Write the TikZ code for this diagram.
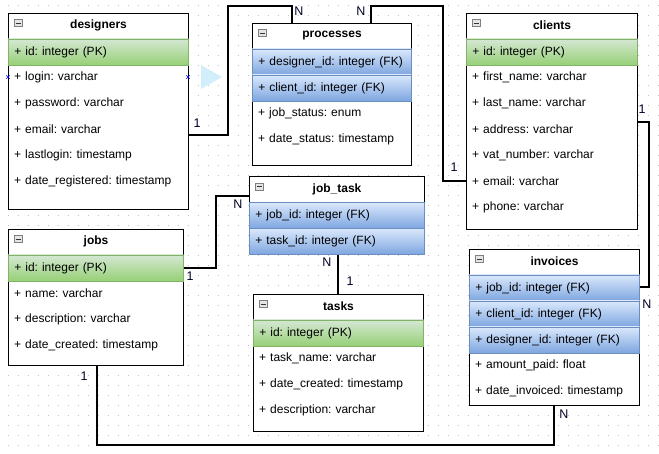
\documentclass[tikz,border=0pt]{standalone}
\usepackage{fontspec}
\setmainfont{Liberation Sans}
\usetikzlibrary{calc}
\definecolor{pkTop}{HTML}{D5E8D4}
\definecolor{pkBot}{HTML}{97D077}
\definecolor{pkLine}{HTML}{82B366}
\definecolor{fkTop}{HTML}{DAE8FC}
\definecolor{fkBot}{HTML}{7EA6E0}
\definecolor{fkLine}{HTML}{6C8EBF}
\definecolor{gridc}{HTML}{C4C4C4}
\definecolor{triC}{HTML}{D2EEFA}
\tikzset{
 tbl/.style={draw=black, line width=1.1pt, fill=white, inner sep=0pt},
 ttl/.style={font=\fontsize{12}{14}\selectfont\bfseries, inner sep=0pt},
 erow/.style={inner xsep=6pt, inner ysep=0pt, minimum height=26pt, align=left, font=\fontsize{12}{14}\selectfont\frenchspacing},
 pk/.style={draw=pkLine, line width=0.8pt, top color=pkTop, bottom color=pkBot},
 fk/.style={draw=fkLine, line width=0.8pt, top color=fkTop, bottom color=fkBot},
 plainrow/.style={},
 conn/.style={draw=black, line width=1.1pt},
 lbl/.style={font=\fontsize{12.5}{14}\selectfont, inner sep=0pt, text=black!85!blue},
 icon/.style={draw=gray, fill=gray!20, line width=0.6pt, minimum width=8pt, minimum height=7pt, inner sep=0pt},
 griddot/.style={draw=gridc, line width=1pt, dash pattern=on 1pt off 9pt},
 marker/.style={draw=blue, line width=0.6pt},
}
\newcommand\ertab[6]{%
 \node[tbl, minimum width=#4pt, minimum height=#5pt, anchor=north west] (#1) at (#2,#3) {};
 \node[ttl] (#1-title) at ($(#1.north)+(0,13)$) {#6};
 \node[icon] (#1-icon) at ($(#1.north west)+(10,10.5)$) {};
 \draw[gray!40!black, line width=0.8pt] ($(#1-icon.west)+(1.8,0)$) -- ($(#1-icon.east)+(-1.8,0)$);
}
\newcommand\errow[6]{%
 \node[erow,#5,minimum width=#4pt,text width=\dimexpr#4pt-12pt\relax,anchor=north west] (#1) at (#2,#3) {#6};
}
\begin{document}
\frenchspacing
\begin{tikzpicture}[x=1pt,y=-1pt]
\useasboundingbox (0,0) rectangle (659,453);
\fill[white] (0,0) rectangle (659,453);
\foreach \yy in {5,15,...,445} \draw[griddot] (7.5,\yy) -- (659,\yy);

% designers
\ertab{designers}{8}{12.5}{180}{196.5}{designers}
\errow{designers-id}{8}{38.5}{180}{pk}{+ id: integer (PK)}
\errow{designers-login}{8}{64.5}{180}{plainrow}{+ login: varchar}
\errow{designers-password}{8}{90.5}{180}{plainrow}{+ password: varchar}
\errow{designers-email}{8}{116.5}{180}{plainrow}{+ email: varchar}
\errow{designers-lastlogin}{8}{142.5}{180}{plainrow}{+ lastlogin: timestamp}
\errow{designers-date}{8}{168.5}{180}{plainrow}{+ date\_registered: timestamp}

% processes
\ertab{processes}{252}{22.5}{159}{142.5}{processes}
\errow{processes-designer}{252}{48.5}{159}{fk}{+ designer\_id: integer (FK)}
\errow{processes-client}{252}{74.5}{159}{fk}{+ client\_id: integer (FK)}
\errow{processes-status}{252}{100.5}{159}{plainrow}{+ job\_status: enum}
\errow{processes-date}{252}{126.5}{159}{plainrow}{+ date\_status: timestamp}

% clients
\ertab{clients}{466}{12.5}{171}{216.5}{clients}
\errow{clients-id}{466}{38.5}{171}{pk}{+ id: integer (PK)}
\errow{clients-first}{466}{64.5}{171}{plainrow}{+ first\_name: varchar}
\errow{clients-last}{466}{90.5}{171}{plainrow}{+ last\_name: varchar}
\errow{clients-address}{466}{116.5}{171}{plainrow}{+ address: varchar}
\errow{clients-vat}{466}{142.5}{171}{plainrow}{+ vat\_number: varchar}
\errow{clients-email}{466}{168.5}{171}{plainrow}{+ email: varchar}
\errow{clients-phone}{466}{194.5}{171}{plainrow}{+ phone: varchar}

% jobs
\ertab{jobs}{8}{228.5}{175}{136.5}{jobs}
\errow{jobs-id}{8}{254.5}{175}{pk}{+ id: integer (PK)}
\errow{jobs-name}{8}{280.5}{175}{plainrow}{+ name: varchar}
\errow{jobs-desc}{8}{306.5}{175}{plainrow}{+ description: varchar}
\errow{jobs-date}{8}{332.5}{175}{plainrow}{+ date\_created: timestamp}

% job_task
\ertab{job_task}{249}{176}{175}{78}{job\_task}
\errow{job_task-job}{249}{202}{175}{fk}{+ job\_id: integer (FK)}
\errow{job_task-task}{249}{228}{175}{fk}{+ task\_id: integer (FK)}

% tasks
\ertab{tasks}{253}{293.5}{170}{137.5}{tasks}
\errow{tasks-id}{253}{319.5}{170}{pk}{+ id: integer (PK)}
\errow{tasks-name}{253}{345.5}{170}{plainrow}{+ task\_name: varchar}
\errow{tasks-date}{253}{371.5}{170}{plainrow}{+ date\_created: timestamp}
\errow{tasks-desc}{253}{397.5}{170}{plainrow}{+ description: varchar}

% invoices
\ertab{invoices}{469}{248.5}{170}{156.5}{invoices}
\errow{invoices-job}{469}{274.5}{170}{fk}{+ job\_id: integer (FK)}
\errow{invoices-client}{469}{300.5}{170}{fk}{+ client\_id: integer (FK)}
\errow{invoices-designer}{469}{326.5}{170}{fk}{+ designer\_id: integer (FK)}
\errow{invoices-amount}{469}{352.5}{170}{plainrow}{+ amount\_paid: float}
\errow{invoices-date}{469}{378.5}{170}{plainrow}{+ date\_invoiced: timestamp}

% connectors
\draw[conn] (designers.east |- 0,135) -- (228,135) -- (228,6) -- (292,6) -- (292,0 |- processes.north);
\draw[conn] (371,0 |- processes.north) -- (371,6) -- (443,6) -- (443,181) -- (clients.west |- 0,181);
\draw[conn] (clients.east |- 0,122) -- (649,122) -- (649,287) -- (invoices.east |- 0,287);
\draw[conn] (97,0 |- jobs.south) -- (97,445) -- (554,445) -- (554,0 |- invoices.south);
\draw[conn] (jobs.east |- 0,268) -- (216,268) -- (216,196) -- (job_task.west |- 0,196);
\draw[conn] (338,0 |- job_task.south) -- (338,0 |- tasks.north);

% labels
\node[lbl] (l-des) at (197,123) {1};
\node[lbl] (l-proc1) at (299,11) {N};
\node[lbl] (l-proc2) at (361,11) {N};
\node[lbl] (l-cli1) at (454,167) {1};
\node[lbl] (l-cli2) at (642,109) {1};
\node[lbl] (l-inv1) at (647,304) {N};
\node[lbl] (l-inv2) at (564,414) {N};
\node[lbl] (l-jobs1) at (84,376) {1};
\node[lbl] (l-jobs2) at (190,276) {1};
\node[lbl] (l-jt1) at (238,204) {N};
\node[lbl] (l-jt2) at (327,262) {N};
\node[lbl] (l-tasks) at (350,281) {1};

% markers and hint triangle
\draw[marker] (6.3,75.3) -- (9.7,78.7) (6.3,78.7) -- (9.7,75.3);
\draw[marker] (186.3,75.3) -- (189.7,78.7) (186.3,78.7) -- (189.7,75.3);
\fill[triC] (201,65) -- (201,89) -- (222,77) -- cycle;
\end{tikzpicture}
\end{document}
